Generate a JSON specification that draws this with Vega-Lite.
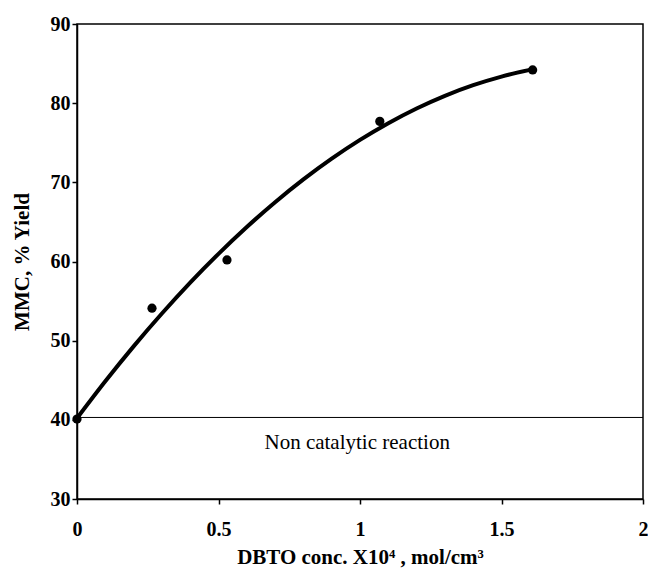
{
  "$schema": "https://vega.github.io/schema/vega-lite/v6.json",
  "width": 566,
  "height": 475,
  "autosize": {"type": "none"},
  "padding": {"left": 77, "top": 24, "right": 5, "bottom": 75},
  "background": "white",
  "config": {
    "view": {"stroke": "black", "strokeWidth": 1.5},
    "font": "Liberation Serif",
    "axis": {
      "grid": false,
      "domainColor": "black",
      "domainWidth": 1.5,
      "tickColor": "black",
      "tickWidth": 1.5,
      "tickSize": 5,
      "labelFont": "Liberation Serif",
      "labelFontWeight": "bold",
      "labelFontSize": 20,
      "labelColor": "black",
      "labelFlush": false,
      "titleFont": "Liberation Serif",
      "titleFontWeight": "bold",
      "titleFontSize": 21,
      "titleColor": "black"
    }
  },
  "datasets": {
    "pts": [
      {"x": 0, "y": 40.1},
      {"x": 0.265, "y": 54.1},
      {"x": 0.53, "y": 60.2},
      {"x": 1.07, "y": 77.7},
      {"x": 1.61, "y": 84.2}
    ],
    "fit": [
      {"x": 0, "y": 40.2},
      {"x": 0.1, "y": 44.87},
      {"x": 0.2, "y": 49.28},
      {"x": 0.3, "y": 53.43},
      {"x": 0.4, "y": 57.33},
      {"x": 0.5, "y": 60.97},
      {"x": 0.6, "y": 64.36},
      {"x": 0.7, "y": 67.49},
      {"x": 0.8, "y": 70.37},
      {"x": 0.9, "y": 72.99},
      {"x": 1.0, "y": 75.36},
      {"x": 1.1, "y": 77.47},
      {"x": 1.2, "y": 79.33},
      {"x": 1.3, "y": 80.93},
      {"x": 1.4, "y": 82.27},
      {"x": 1.5, "y": 83.36},
      {"x": 1.6, "y": 84.2}
    ],
    "base": [{"y": 40.3}],
    "note": [{"x": 0.99, "y": 37.1, "label": "Non catalytic reaction"}]
  },
  "layer": [
    {
      "data": {"name": "base"},
      "mark": {"type": "rule", "color": "black", "strokeWidth": 1},
      "encoding": {
        "y": {"field": "y", "type": "quantitative", "scale": {"domain": [30, 90]}}
      }
    },
    {
      "data": {"name": "fit"},
      "mark": {"type": "line", "color": "black", "strokeWidth": 4, "interpolate": "monotone"},
      "encoding": {
        "x": {"field": "x", "type": "quantitative"},
        "y": {"field": "y", "type": "quantitative"}
      }
    },
    {
      "data": {"name": "pts"},
      "mark": {"type": "point", "filled": true, "color": "black", "size": 85, "opacity": 1},
      "encoding": {
        "x": {
          "field": "x", "type": "quantitative",
          "scale": {"domain": [0, 2], "nice": false, "zero": false},
          "axis": {
            "values": [0, 0.5, 1, 1.5, 2],
            "labelExpr": "datum.value",
            "labelPadding": 15,
            "title": "DBTO conc. X10⁴ , mol/cm³",
            "titlePadding": 7
          }
        },
        "y": {
          "field": "y", "type": "quantitative",
          "scale": {"domain": [30, 90], "nice": false, "zero": false},
          "axis": {
            "values": [30, 40, 50, 60, 70, 80, 90],
            "labelPadding": 2,
            "title": "MMC, % Yield",
            "titlePadding": 18
          }
        }
      }
    },
    {
      "data": {"name": "note"},
      "mark": {"type": "text", "font": "Liberation Serif", "fontSize": 21, "color": "black", "align": "center", "baseline": "middle"},
      "encoding": {
        "x": {"field": "x", "type": "quantitative"},
        "y": {"field": "y", "type": "quantitative"},
        "text": {"field": "label"}
      }
    }
  ]
}
